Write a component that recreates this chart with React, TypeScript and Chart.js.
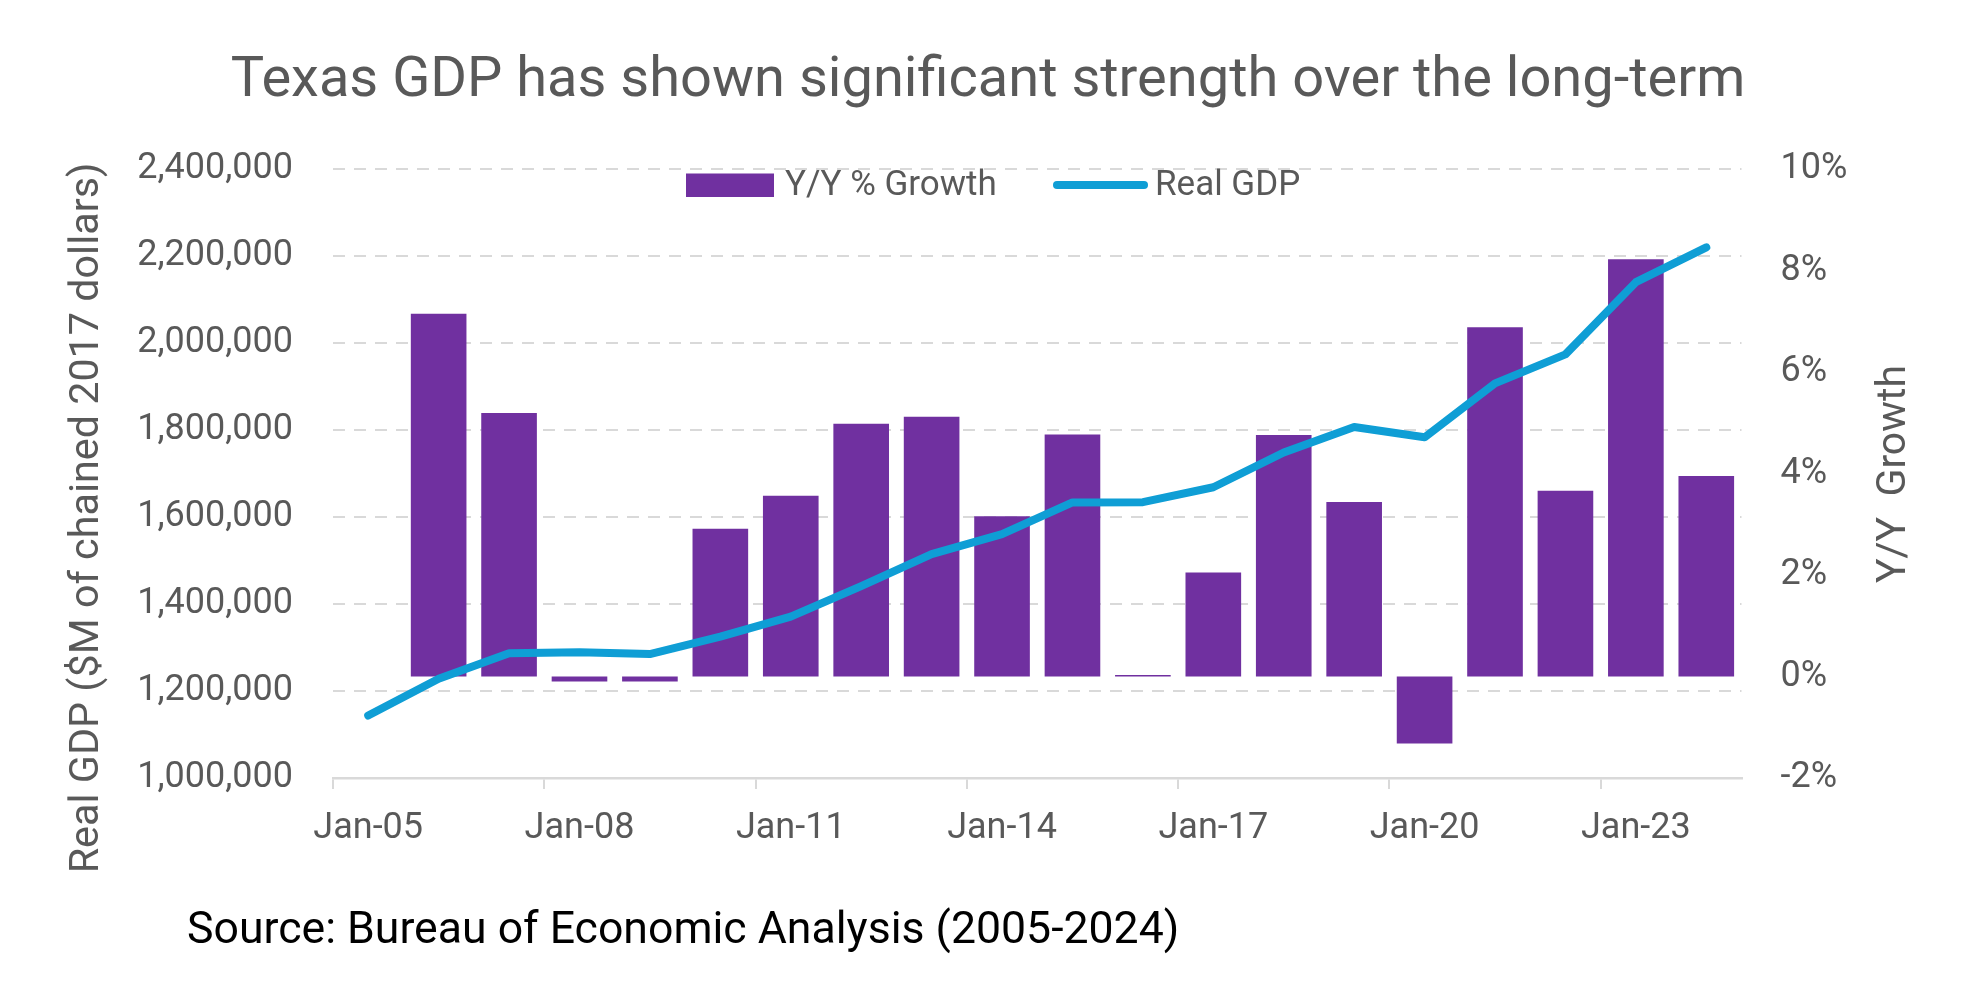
import React, { useEffect, useRef } from "react";
import { Chart, registerables } from "chart.js";

Chart.register(...registerables);

// ---- Data -------------------------------------------------------------
const years = [
  "2005", "2006", "2007", "2008", "2009", "2010", "2011", "2012", "2013", "2014",
  "2015", "2016", "2017", "2018", "2019", "2020", "2021", "2022", "2023", "2024",
];

// Axis labels shown every third year (Jan-05, Jan-08, ...)
const xTickLabels = ["Jan-05", "Jan-08", "Jan-11", "Jan-14", "Jan-17", "Jan-20", "Jan-23"];

// Year-over-year % change in real GDP (no value for the first year)
const yoyGrowth: (number | null)[] = [
  null, 7.15, 5.19, -0.1, -0.1, 2.91, 3.56, 4.98, 5.12, 3.16,
  4.77, 0.03, 2.05, 4.76, 3.44, -1.32, 6.88, 3.66, 8.22, 3.95,
];

// Real GDP, millions of chained 2017 dollars
const realGdp = [
  1143500, 1228000, 1287000, 1289000, 1285000, 1325000, 1371000, 1441000, 1514600, 1560700,
  1633500, 1634000, 1668400, 1748300, 1806900, 1783200, 1907200, 1973800, 2139800, 2220000,
];

const gdpAxisTicks = { min: 1000000, max: 2400000, step: 200000 };
const growthAxisTicks = { min: -2, max: 10, step: 2 };

const TITLE = "Texas GDP has shown significant strength over the long-term";
const SOURCE = "Source: Bureau of Economic Analysis (2005-2024)";
const LEFT_AXIS_TITLE = "Real GDP ($M of chained 2017 dollars)";
const RIGHT_AXIS_TITLE = "Y/Y  Growth";
const BAR_LABEL = "Y/Y % Growth";
const LINE_LABEL = "Real GDP";

// ---- Styling ----------------------------------------------------------
const FONT = 'Roboto, "Liberation Sans", Arial, sans-serif';
const GREY_TEXT = "#595959";
const GRID = "#d9d9d9";
const PURPLE = "#7030A0";
const BLUE = "#0F9ED5";

const W = 1979;
const H = 990;

// Titles, legend and source line drawn on top of the chart
const decorations = {
  id: "decorations",
  afterDraw(chart: Chart) {
    const { ctx } = chart;
    ctx.save();

    // Chart title
    ctx.fillStyle = GREY_TEXT;
    ctx.font = `56px ${FONT}`;
    ctx.textAlign = "center";
    ctx.textBaseline = "alphabetic";
    ctx.fillText(TITLE, 988, 96);

    // Left axis title
    ctx.save();
    ctx.translate(88, 518);
    ctx.rotate(-Math.PI / 2);
    ctx.font = `41.3px ${FONT}`;
    ctx.textAlign = "center";
    ctx.textBaseline = "middle";
    ctx.fillText(LEFT_AXIS_TITLE, 0, 0);
    ctx.restore();

    // Right axis title
    ctx.save();
    ctx.translate(1895, 474);
    ctx.rotate(-Math.PI / 2);
    ctx.font = `41px ${FONT}`;
    ctx.textAlign = "center";
    ctx.textBaseline = "middle";
    ctx.fillText(RIGHT_AXIS_TITLE, 0, 0);
    ctx.restore();

    // Legend
    ctx.fillStyle = PURPLE;
    ctx.fillRect(686, 173.5, 88, 23.5);
    ctx.fillStyle = GREY_TEXT;
    ctx.font = `35px ${FONT}`;
    ctx.textAlign = "left";
    ctx.textBaseline = "middle";
    ctx.fillText(BAR_LABEL, 785, 186);

    ctx.strokeStyle = BLUE;
    ctx.lineWidth = 8;
    ctx.lineCap = "round";
    ctx.beginPath();
    ctx.moveTo(1057, 185);
    ctx.lineTo(1144, 185);
    ctx.stroke();
    ctx.fillText(LINE_LABEL, 1155, 186);

    // Source line
    ctx.fillStyle = "#000000";
    ctx.font = `44.6px ${FONT}`;
    ctx.textAlign = "left";
    ctx.textBaseline = "alphabetic";
    ctx.fillText(SOURCE, 187, 943);

    ctx.restore();
  },
};

export default function App() {
  const canvasRef = useRef<HTMLCanvasElement | null>(null);

  useEffect(() => {
    document.body.style.margin = "0";
    const canvas = canvasRef.current;
    if (!canvas) return;

    const chart = new Chart(canvas, {
      type: "bar",
      data: {
        labels: years,
        datasets: [
          {
            type: "line",
            label: LINE_LABEL,
            data: realGdp,
            yAxisID: "y",
            borderColor: BLUE,
            backgroundColor: BLUE,
            borderWidth: 8,
            borderCapStyle: "round",
            borderJoinStyle: "round",
            pointRadius: 0,
            pointHoverRadius: 0,
            tension: 0,
            order: 1,
          },
          {
            type: "bar",
            label: BAR_LABEL,
            data: yoyGrowth,
            yAxisID: "y1",
            backgroundColor: PURPLE,
            borderWidth: 0,
            barPercentage: 0.79,
            categoryPercentage: 1,
            order: 2,
          },
        ],
      },
      options: {
        responsive: false,
        animation: false,
        devicePixelRatio: 1,
        layout: { padding: { top: 169, left: 0, right: 0, bottom: 0 } },
        plugins: {
          legend: { display: false },
          tooltip: { enabled: false },
          title: { display: false },
        },
        scales: {
          x: {
            type: "category",
            offset: true,
            afterFit: (s: any) => {
              s.height = 212;
            },
            grid: {
              offset: true,
              drawOnChartArea: false,
              drawTicks: true,
              tickLength: 11,
              lineWidth: 2,
              color: (c: any) =>
                typeof c.index === "number" && c.index % 3 === 0 ? GRID : "rgba(0,0,0,0)",
            },
            border: { display: true, color: GRID, width: 2.5 },
            ticks: {
              autoSkip: false,
              maxRotation: 0,
              minRotation: 0,
              padding: 18,
              color: GREY_TEXT,
              font: { family: FONT, size: 36 },
              callback: (_v: any, i: number) => (i % 3 === 0 ? xTickLabels[i / 3] : ""),
            },
          },
          y: {
            type: "linear",
            position: "left",
            min: gdpAxisTicks.min,
            max: gdpAxisTicks.max,
            afterFit: (s: any) => {
              s.width = 333;
            },
            grid: {
              color: GRID,
              lineWidth: 2,
              drawTicks: false,
            },
            border: { display: false, dash: [12, 9] },
            ticks: {
              stepSize: gdpAxisTicks.step,
              padding: 40,
              color: GREY_TEXT,
              font: { family: FONT, size: 36 },
              callback: (v: any) => Number(v).toLocaleString("en-US"),
            },
          },
          y1: {
            type: "linear",
            position: "right",
            min: growthAxisTicks.min,
            max: growthAxisTicks.max,
            afterFit: (s: any) => {
              s.width = 237.5;
            },
            grid: { display: false, drawTicks: false },
            border: { display: false },
            ticks: {
              stepSize: growthAxisTicks.step,
              padding: 39,
              color: GREY_TEXT,
              font: { family: FONT, size: 36 },
              callback: (v: any) => `${v}%`,
            },
          },
        },
      },
      plugins: [decorations],
    });

    return () => chart.destroy();
  }, []);

  return (
    <div style={{ position: "absolute", left: 0, top: 0, width: W, height: H, background: "#ffffff" }}>
      <canvas ref={canvasRef} width={W} height={H} style={{ width: W, height: H, display: "block" }} />
    </div>
  );
}
